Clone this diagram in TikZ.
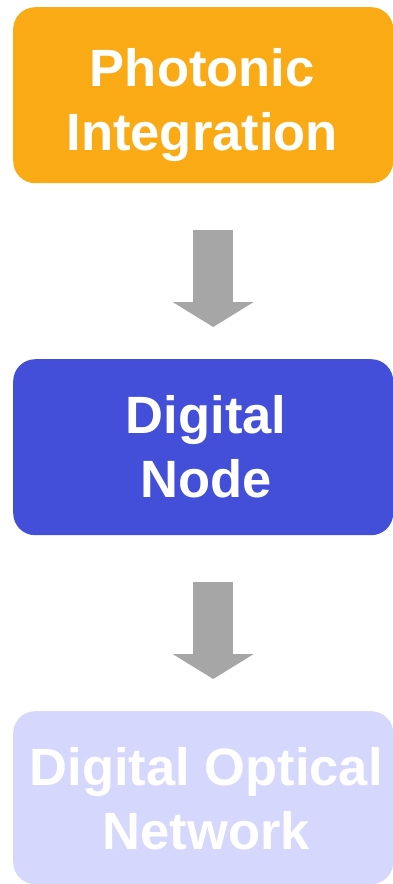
\documentclass[tikz,border=0pt]{standalone}
\usepackage{fontspec}
\setmainfont{Liberation Sans}
\usetikzlibrary{arrows.meta,calc}
\definecolor{cOrange}{HTML}{F9AA14}
\definecolor{cBlue}{HTML}{434FD8}
\definecolor{cLight}{HTML}{D6D7FC}
\definecolor{cGray}{HTML}{A6A6A6}
\tikzset{
  box/.style={rectangle, rounded corners=22pt, minimum width=380pt, minimum height=176pt, inner sep=0pt, anchor=north west},
  lbl/.style={text=white, align=center, inner sep=0pt, font=\fontsize{52.5}{64}\selectfont\bfseries},
  blockarrow/.style={draw=cGray, line width=40pt, -{Triangle[length=25pt, width=80pt, fill=cGray, color=cGray]}}
}
\begin{document}
\begin{tikzpicture}[x=1pt,y=-1pt]
\useasboundingbox (0,0) rectangle (392,884);
\node[box, fill=cOrange] (n1) at (13,7) {};
\node[box, fill=cBlue] (n2) at (13,359) {};
\node[box, fill=cLight, minimum height=173pt] (n3) at (13,711) {};
\node[lbl] (t1) at ([xshift=-1pt,yshift=-10pt]n1.center) {Photonic\\Integration};
\node[lbl] (t2) at ([xshift=3pt,yshift=0pt]n2.center) {Digital\\Node};
\node[lbl] (t3) at ([xshift=3pt,yshift=-1pt]n3.center) {Digital Optical\\Network};
\coordinate (a1s) at ([xshift=10pt,yshift=-47pt]n1.south);
\coordinate (a1e) at ([xshift=10pt,yshift=32pt]n2.north);
\coordinate (a2s) at ([xshift=10pt,yshift=-47pt]n2.south);
\coordinate (a2e) at ([xshift=10pt,yshift=32pt]n3.north);
\draw[blockarrow] (a1s) -- (a1e);
\draw[blockarrow] (a2s) -- (a2e);
\end{tikzpicture}
\end{document}
